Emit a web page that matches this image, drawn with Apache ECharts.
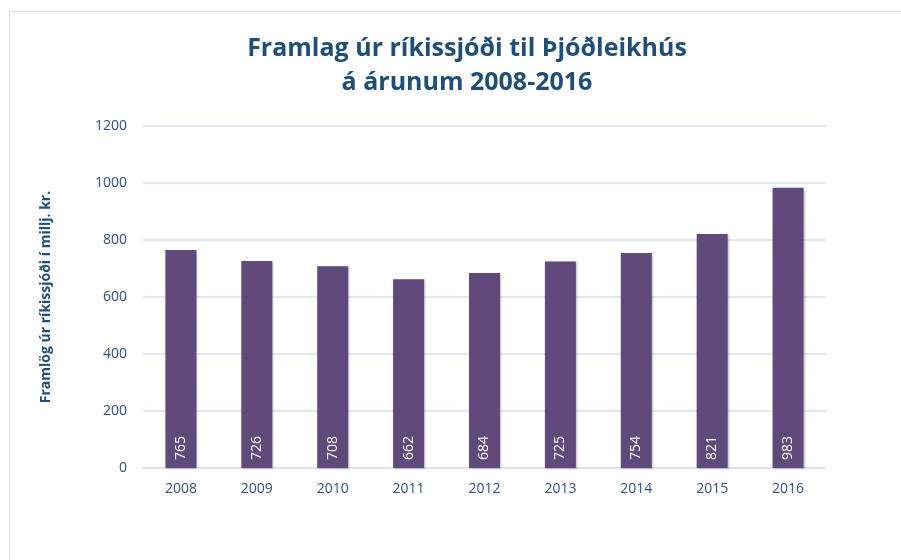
<!DOCTYPE html>
<html>
<head>
<meta charset="utf-8">
<script src="https://cdn.jsdelivr.net/npm/echarts@6/dist/echarts.min.js"></script>
<style>
html, body { margin: 0; padding: 0; background: #fff; }
.frame { position: absolute; left: 9px; top: 11px; width: 900px; height: 560px; border: 1px solid #d6e1f2; box-sizing: border-box; }
#main { width: 901px; height: 560px; }
</style>
</head>
<body>
<div class="frame"></div>
<div id="main"></div>
<script>
// gögn úr myndinni
var years = ['2008', '2009', '2010', '2011', '2012', '2013', '2014', '2015', '2016']
var framlag = [765, 726, 708, 662, 684, 725, 754, 821, 983]
var yTicks = { min: 0, max: 1200, interval: 200 }

var myChart = echarts.init(document.getElementById('main'))
myChart.setOption({
  animation: false,
  title: {
    text: 'Framlag úr ríkissjóði til Þjóðleikhús\ná árunum 2008-2016',
    left: 462,
    textAlign: 'center',
    top: 27,
    textStyle: {
      color: '#1f4e79',
      fontFamily: 'Open Sans',
      fontWeight: 'bold',
      fontSize: 25,
      lineHeight: 34
    }
  },
  grid: {
    left: 143,
    right: 75,
    top: 126,
    bottom: 92
  },
  xAxis: {
    type: 'category',
    data: years,
    axisLine: { lineStyle: { color: '#d6e1f2', width: 1.5 } },
    axisTick: { show: false },
    axisLabel: {
      color: '#2f5080',
      fontFamily: 'Open Sans',
      fontSize: 14,
      margin: 14
    }
  },
  yAxis: {
    type: 'value',
    min: yTicks.min,
    max: yTicks.max,
    interval: yTicks.interval,
    name: 'Framlög úr ríkissjóði í millj. kr.',
    nameLocation: 'middle',
    nameGap: 90,
    nameTextStyle: {
      color: '#1f4e79',
      fontFamily: 'Open Sans',
      fontWeight: 'bold',
      fontSize: 14
    },
    axisLine: { show: false },
    axisTick: { show: false },
    splitLine: { lineStyle: { color: '#d6e1f2', width: 1.5 } },
    axisLabel: {
      color: '#2f5080',
      fontFamily: 'Open Sans',
      fontSize: 14,
      margin: 16,
      formatter: function (v) { return String(v) }
    }
  },
  series: [{
    type: 'bar',
    data: framlag,
    barWidth: 31,
    itemStyle: {
      color: '#604a7b',
      shadowColor: 'rgba(0,0,0,0.25)',
      shadowBlur: 2,
      shadowOffsetX: 1,
      shadowOffsetY: 1
    },
    label: {
      show: true,
      position: 'insideBottom',
      rotate: 90,
      align: 'left',
      verticalAlign: 'middle',
      distance: 8,
      color: '#fff',
      fontFamily: 'Open Sans',
      fontSize: 14
    }
  }]
})
</script>
</body>
</html>
